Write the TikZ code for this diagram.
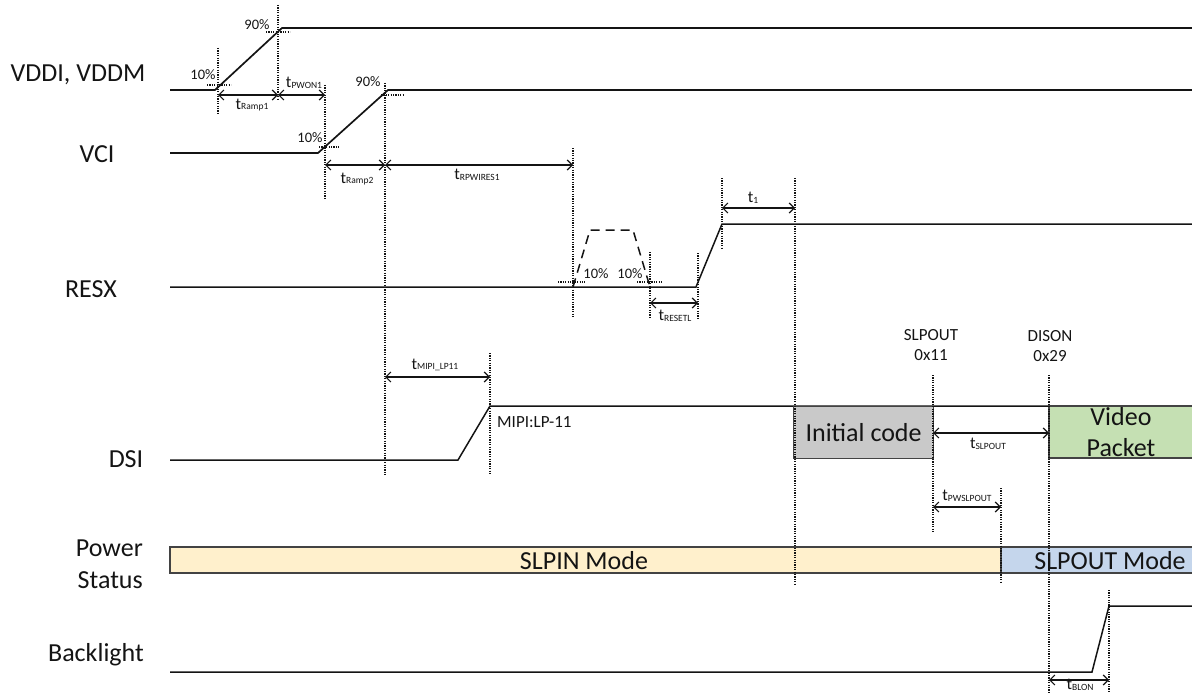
\documentclass[tikz,border=0pt]{standalone}
\usepackage{fontspec}
\setmainfont{Carlito}
\usetikzlibrary{arrows.meta}
\definecolor{codegray}{HTML}{C9C9C9}
\definecolor{vidgreen}{HTML}{C5E0B3}
\definecolor{slpin}{HTML}{FFF0CC}
\definecolor{slpout}{HTML}{C5D6EC}
\definecolor{ink}{HTML}{141414}
\newcommand\tlab[1]{t\raisebox{-0.5pt}{\fontsize{9.5}{10}\selectfont #1}}
\begin{document}
\begin{tikzpicture}[x=1pt,y=-1pt,
  sig/.style={line width=1.7pt, ink},
  vdot/.style={line width=1.3pt, ink, dash pattern=on 1.2pt off 1.2pt},
  dim/.style={line width=1.2pt, ink, {Straight Barb[length=5pt,width=10pt]}-{Straight Barb[length=5pt,width=10pt]}},
  lbl/.style={font=\fontsize{26}{30}\selectfont, inner sep=0pt, text=ink},
  pct/.style={font=\fontsize{14.5}{16}\selectfont, inner sep=0pt, text=ink},
  cmd/.style={font=\fontsize{17}{20}\selectfont, align=center, inner sep=0pt, text=ink},
  tl/.style={font=\fontsize{16.5}{17}\selectfont, inner sep=0pt, text=ink},
  boxline/.style={line width=1.2pt, draw=ink!80}]
\useasboundingbox (0,0) rectangle (1192,693);

% ---- signal names
\node[lbl] (nVDD) at (78,75) {VDDI, VDDM};
\node[lbl] (nVCI) at (97,154) {VCI};
\node[lbl] (nRESX) at (91,289) {RESX};
\node[lbl] (nDSI) at (126,459) {DSI};
\node[lbl, anchor=east] (nPow) at (143,548) {Power};
\node[lbl, anchor=east] (nSta) at (143,580) {Status};
\node[lbl] (nBL) at (96,655) {Backlight};

% ---- key coordinates
\coordinate (A0) at (218,95);  \coordinate (A1) at (278,95);  \coordinate (A2) at (325,95);
\coordinate (B0) at (325,165); \coordinate (B1) at (385,165); \coordinate (B2) at (573,165);
\coordinate (C0) at (650,303); \coordinate (C1) at (698,303);
\coordinate (D0) at (722,208); \coordinate (D1) at (795,208);
\coordinate (E0) at (385,377); \coordinate (E1) at (490,377);
\coordinate (F0) at (933,433); \coordinate (F1) at (1049,433);
\coordinate (G0) at (933,507); \coordinate (G1) at (1001,507);
\coordinate (H0) at (1049,680); \coordinate (H1) at (1109,680);

% ---- power status bar
\fill[slpin] (170,547) rectangle (1001,573);
\fill[slpout] (1001,547) rectangle (1192,573);
\draw[boxline] (1192,547) -- (170,547) -- (170,573) -- (1192,573);
\draw[boxline] (1001,547) -- (1001,573);
\node[lbl] (slpinT) at (584,561) {SLPIN Mode};
\node[lbl] (slpoutT) at (1110,561) {SLPOUT Mode};

% ---- signals
\draw[sig] (170,90) -- (215,90) -- (282,28) -- (1192,28);
\draw[sig] (170,153) -- (318,153) -- (388,90) -- (1192,90);
\draw[sig, line width=1.5pt] (170,287) -- (696,287) -- (722,224) -- (1192,224);
\draw[line width=1.5pt, ink, dash pattern=on 9pt off 6pt] (573,287) -- (590,230) -- (633,230) -- (650,287);
\draw[sig, line width=1.5pt] (170,460) -- (458,460) -- (490,406) -- (1192,406);
\draw[sig, line width=1.5pt] (170,672) -- (1092,672) -- (1109,606) -- (1192,606);

% ---- DSI boxes
\node[boxline, fill=codegray, minimum width=140pt, minimum height=52pt, anchor=north west, inner sep=0pt, lbl] (init) at (793,406) {Initial code};
\fill[vidgreen] (1049,406) rectangle (1192,458);
\draw[boxline] (1192,406) -- (1049,406) -- (1049,458) -- (1192,458);
\node[lbl, align=center, font=\fontsize{26}{31}\selectfont] (video) at (1121,432) {Video\\Packet};

% ---- dotted verticals
\draw[vdot] (218,48) -- (218,113);
\draw[vdot] (278,5) -- (278,100);
\draw[vdot] (325,85) -- (325,200);
\draw[vdot] (385,83) -- (385,475);
\draw[vdot] (573,148) -- (573,317);
\draw[vdot] (650,252) -- (650,317);
\draw[vdot] (698,253) -- (698,318);
\draw[vdot] (722,178) -- (722,248);
\draw[vdot] (795,178) -- (795,585);
\draw[vdot] (490,353) -- (490,475);
\draw[vdot] (933,375) -- (933,532);
\draw[vdot] (1049,375) -- (1049,693);
\draw[vdot] (1001,488) -- (1001,583);
\draw[vdot] (1109,590) -- (1109,693);

% ---- dotted level marks
\draw[vdot] (207,85) -- (231,85);
\draw[vdot] (266,32) -- (290,32);
\draw[vdot] (319,147) -- (340,147);
\draw[vdot] (381,95) -- (404,95);
\draw[vdot] (558,282) -- (585,282);
\draw[vdot] (637,282) -- (662,282);

% ---- percent labels
\node[pct] (p1) at (257,25) {90\%};
\node[pct] (p2) at (203,75) {10\%};
\node[pct] (p3) at (310,138) {10\%};
\node[pct] (p4) at (368,82) {90\%};
\node[pct] (p5) at (596,274) {10\%};
\node[pct] (p6) at (630,274) {10\%};

% ---- dimension arrows
\draw[dim] (A0) -- (A1);
\draw[dim] (A1) -- (A2);
\draw[dim] (B0) -- (B1);
\draw[dim] (B1) -- (B2);
\draw[dim] (C0) -- (C1);
\draw[dim] (D0) -- (D1);
\draw[dim] (E0) -- (E1);
\draw[dim] (F0) -- (F1);
\draw[dim] (G0) -- (G1);
\draw[dim] (H0) -- (H1);

\node[tl] (tR1) at (252,105) {\tlab{Ramp1}};
\node[tl] (tPW) at (304,83) {\tlab{PWON1}};
\node[tl] (tR2) at (357,179) {\tlab{Ramp2}};
\node[tl] (tRP) at (477,175) {\tlab{RPWIRES1}};
\node[tl] (tRS) at (675,316) {\tlab{RESETL}};
\node[tl] (tT1) at (753,198) {\tlab{1}};
\node[tl] (tMI) at (435,365) {\tlab{MIPI\_LP11}};
\node[tl] (tSL) at (988,444) {\tlab{SLPOUT}};
\node[tl] (tPS) at (967,496) {\tlab{PWSLPOUT}};
\node[tl] (tBL) at (1080,685) {\tlab{BLON}};

% ---- command labels
\node[cmd] (slpoutC) at (931,345) {SLPOUT\\0x11};
\node[cmd] (disonC) at (1050,346) {DISON\\0x29};
\node[cmd, anchor=west] (mipi) at (497,422) {MIPI:LP-11};
\end{tikzpicture}
\end{document}
